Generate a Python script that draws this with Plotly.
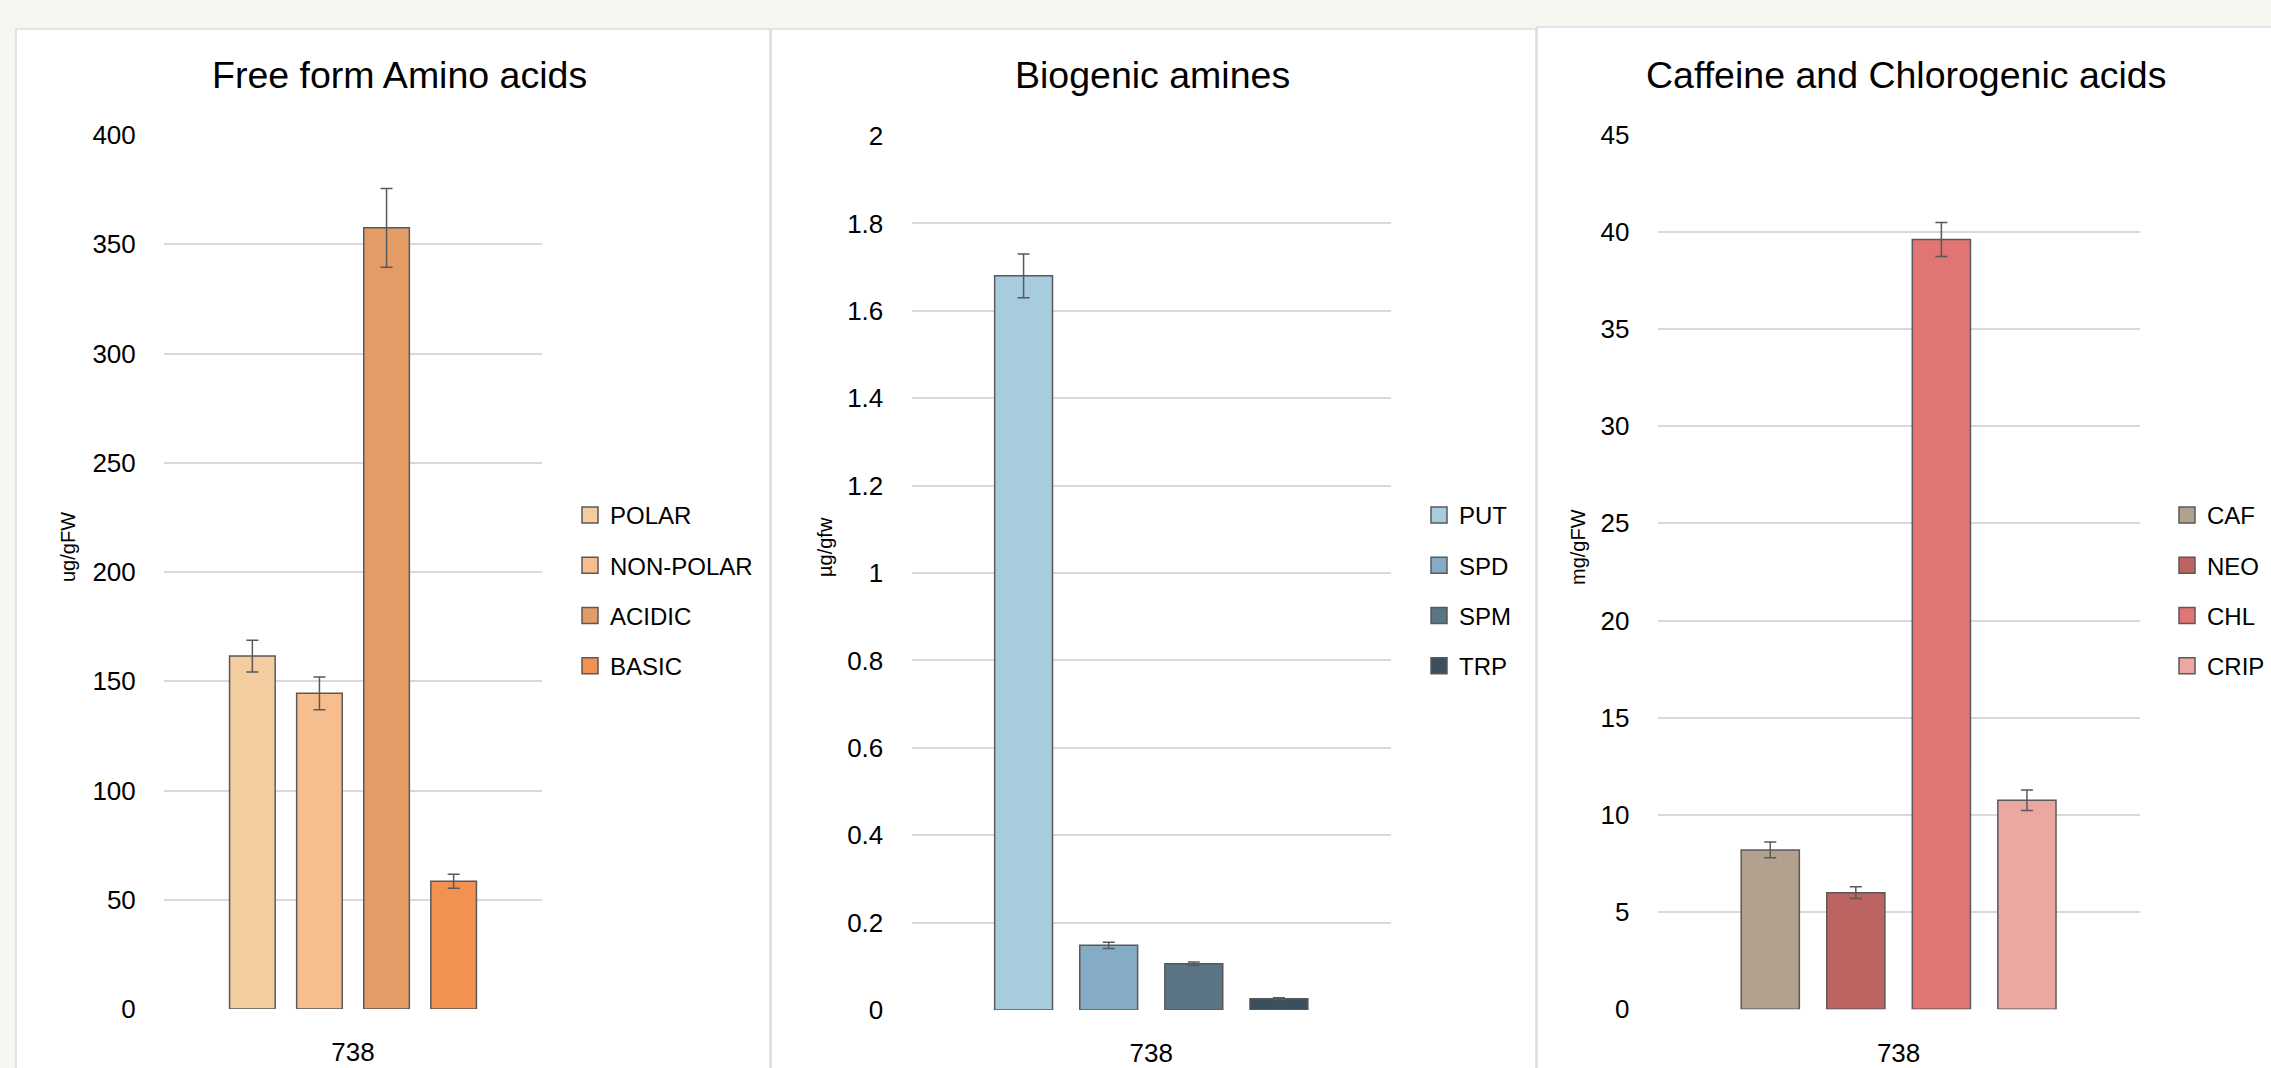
import plotly.graph_objects as go

W, H = 2271, 1068

category = ["738"]

aa_title = "Free form Amino acids"
aa_ytitle = "ug/gFW"
aa_names = ["POLAR", "NON-POLAR", "ACIDIC", "BASIC"]
aa_values = [161.5, 144.5, 357.5, 58.5]
aa_errors = [7.3, 7.5, 18.0, 3.2]
aa_colors = ["#F3CD9F", "#F5BE8C", "#E49C67", "#F39150"]

ba_title = "Biogenic amines"
ba_ytitle = "µg/gfw"
ba_names = ["PUT", "SPD", "SPM", "TRP"]
ba_values = [1.68, 0.148, 0.106, 0.026]
ba_errors = [0.05, 0.007, 0.004, 0.002]
ba_colors = ["#A7CCDD", "#86ACC5", "#5B7486", "#3C4F5C"]

cc_title = "Caffeine and Chlorogenic acids"
cc_ytitle = "mg/gFW"
cc_names = ["CAF", "NEO", "CHL", "CRIP"]
cc_values = [8.2, 6.0, 39.6, 10.75]
cc_errors = [0.4, 0.3, 0.87, 0.53]
cc_colors = ["#B3A190", "#BD6361", "#E07573", "#EBA7A0"]

FONT = "Liberation Sans, Arial, sans-serif"
OUTLINE = "#595959"
GRID = "#D9D9D9"


def px(x):
    return x / W


def py(y):
    return 1 - y / H


panels = [
    dict(title=aa_title, ytitle=aa_ytitle, names=aa_names, values=aa_values, errors=aa_errors,
         colors=aa_colors, yrange=[0, 400], dtick=50, plot=(164, 542), y=(135, 1009),
         box=(16, 29, 770), title_x=399, ytitle_x=68, legend_x=570),
    dict(title=ba_title, ytitle=ba_ytitle, names=ba_names, values=ba_values, errors=ba_errors,
         colors=ba_colors, yrange=[0, 2], dtick=0.2, plot=(911.5, 1391), y=(136, 1010),
         box=(771, 29, 1536), title_x=1152, ytitle_x=825, legend_x=1419),
    dict(title=cc_title, ytitle=cc_ytitle, names=cc_names, values=cc_values, errors=cc_errors,
         colors=cc_colors, yrange=[0, 45], dtick=5, plot=(1657.6, 2139.6), y=(134.5, 1009.3),
         box=(1537, 27, 2290), title_x=1906, ytitle_x=1578, legend_x=2167),
]

fig = go.Figure()
layout = dict(
    width=W, height=H,
    margin=dict(l=0, r=0, t=0, b=0, pad=0, autoexpand=False),
    paper_bgcolor="#F6F7F0",
    plot_bgcolor="rgba(0,0,0,0)",
    barmode="group",
    bargap=0.29,
    bargroupgap=0.32,
    font=dict(family=FONT, size=26, color="#000000"),
    shapes=[], annotations=[],
)

for i, p in enumerate(panels):
    n = "" if i == 0 else str(i + 1)
    xa, ya = "x" + n, "y" + n
    leg = "legend" + n
    for name, v, e, c in zip(p["names"], p["values"], p["errors"], p["colors"]):
        fig.add_trace(go.Bar(
            x=category, y=[v], name=name, xaxis=xa, yaxis=ya,
            marker=dict(color=c, line=dict(color=OUTLINE, width=1.5)),
            error_y=dict(type="data", array=[e], visible=True, color=OUTLINE, thickness=1.5, width=6),
            showlegend=False,
        ))
        # legend proxy
        fig.add_trace(go.Scatter(
            x=[None], y=[None], name=name, mode="markers", xaxis=xa, yaxis=ya,
            marker=dict(symbol="square", size=16, color=c, line=dict(color=OUTLINE, width=1.5)),
            legend=leg, legendgroup=name, showlegend=True,
        ))
    layout["xaxis" + n] = dict(
        domain=[px(p["plot"][0]), px(p["plot"][1])], anchor=ya,
        type="category", range=[-0.5, 0.5], showgrid=False, zeroline=False,
        showline=False, ticks="outside", ticklen=20, tickcolor="rgba(0,0,0,0)",
        tickfont=dict(size=26, family=FONT), automargin=False,
    )
    layout["yaxis" + n] = dict(
        domain=[py(p["y"][1]), py(p["y"][0])], anchor=xa,
        range=p["yrange"], dtick=p["dtick"], showgrid=True, gridcolor=GRID, gridwidth=1.5,
        zeroline=False, showline=False, ticks="outside", ticklen=22, tickcolor="rgba(0,0,0,0)",
        tickfont=dict(size=26, family=FONT), automargin=False,
    )
    layout[leg] = dict(
        x=px(p["legend_x"]), xanchor="left", y=py(493), yanchor="top",
        bgcolor="rgba(0,0,0,0)", font=dict(size=24, family=FONT),
        tracegroupgap=16, itemclick=False,
    )
    bx0, by0, bx1 = p["box"]
    layout["shapes"].append(dict(
        type="rect", xref="paper", yref="paper", layer="below",
        x0=px(bx0), x1=px(bx1), y0=py(H + 20), y1=py(by0),
        fillcolor="#FFFFFF", line=dict(color="#DCDCDC", width=1.5),
    ))
    layout["annotations"].append(dict(
        text=p["title"], xref="paper", yref="paper", x=px(p["title_x"]), y=py(75),
        xanchor="center", yanchor="middle", showarrow=False,
        font=dict(size=37.5, family=FONT, color="#000000"),
    ))
    layout["annotations"].append(dict(
        text=p["ytitle"], xref="paper", yref="paper", x=px(p["ytitle_x"]), y=py(547),
        xanchor="center", yanchor="middle", showarrow=False, textangle=-90,
        font=dict(size=20, family=FONT, color="#000000"),
    ))

fig.update_layout(**layout)
fig.write_html(
    "out.html",
    config={"displayModeBar": False},
    post_script="document.body.style.margin='0';document.body.style.overflow='hidden';",
)
